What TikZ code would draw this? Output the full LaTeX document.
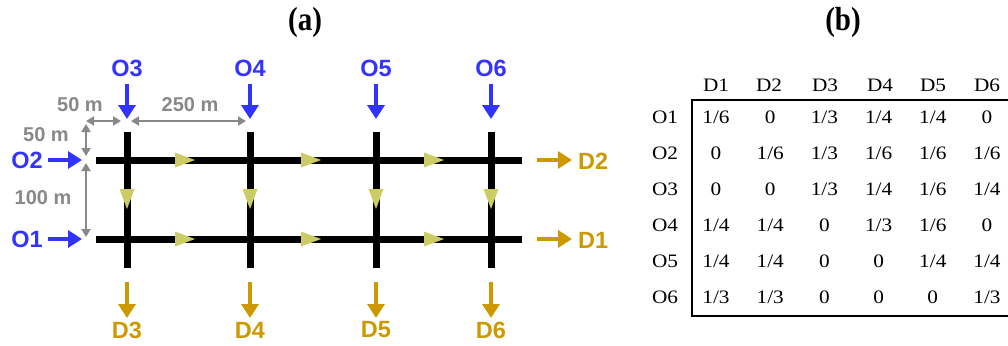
\documentclass[tikz,border=0pt]{standalone}
\usepackage{fontspec}
\setmainfont{Liberation Serif}
\setsansfont{Liberation Sans}
\usetikzlibrary{arrows.meta}
\definecolor{oblue}{RGB}{51,51,255}
\definecolor{dgold}{RGB}{204,153,0}
\definecolor{triyel}{RGB}{204,204,102}
\definecolor{dimgray}{RGB}{136,136,136}
\tikzset{
  road/.style={line width=7pt, black},
  oarrow/.style={line width=4.5pt, oblue, -{Triangle[length=14pt,width=17pt]}},
  darrow/.style={line width=4.5pt, dgold, -{Triangle[length=14pt,width=17pt]}},
  olabel/.style={text=oblue, font=\sffamily\bfseries\fontsize{23.5}{23.5}\selectfont, inner sep=0pt},
  dlabel/.style={text=dgold, font=\sffamily\bfseries\fontsize{23.5}{23.5}\selectfont, inner sep=0pt},
  dimline/.style={line width=2pt, dimgray, {Triangle[length=8pt,width=9pt]}-{Triangle[length=8pt,width=9pt]}},
  dimlabel/.style={text=dimgray, font=\sffamily\bfseries\fontsize{20}{20}\selectfont, inner sep=0pt},
  tri/.style={fill=triyel},
  title/.style={font=\bfseries\fontsize{29}{29}\selectfont, inner sep=0pt},
  cell/.style={font=\fontsize{19}{19}\selectfont, inner sep=0pt},
}
\newcommand{\widetxt}[1]{\scalebox{1.12}[1]{#1}}
\newcommand{\talltxt}[1]{\scalebox{1}[1.15]{#1}}
\begin{document}
\begin{tikzpicture}[x=1pt,y=-1pt]
\useasboundingbox (0,0) rectangle (1008,345);

% titles
\node[title] (ta) at (305,22) {\talltxt{(a)}};
\node[title] (tb) at (843,22) {\talltxt{(b)}};

% road coordinates
\coordinate (h2w) at (96,160);  \coordinate (h2e) at (522,160);
\coordinate (h1w) at (96,239);  \coordinate (h1e) at (522,239);
\foreach \n/\x in {3/127,4/250,5/376,6/491}{
  \coordinate (v\n n) at (\x,132);
  \coordinate (v\n s) at (\x,268);
}
\draw[road] (h2w) -- (h2e);
\draw[road] (h1w) -- (h1e);
\foreach \n in {3,4,5,6}{ \draw[road] (v\n n) -- (v\n s); }

% direction triangles (horizontal)
\foreach \x in {185,311,434}{
  \fill[tri] (\x-10,152.5) -- (\x+10,160) -- (\x-10,167.5) -- cycle;
  \fill[tri] (\x-10,231.5) -- (\x+10,239) -- (\x-10,246.5) -- cycle;
}
% direction triangles (vertical)
\foreach \x in {127,250,376,491}{
  \fill[tri] (\x-7.5,189) -- (\x+7.5,189) -- (\x,209) -- cycle;
}

% origins top
\foreach \n/\x in {3/127,4/250,5/376,6/491}{
  \node[olabel] (O\n) at (\x,68) {O\n};
  \coordinate (O\n a) at (\x,84);
  \coordinate (O\n b) at (\x,119);
  \draw[oarrow] (O\n a) -- (O\n b);
}
% origins left
\node[olabel] (O2) at (27,160) {O2};
\node[olabel] (O1) at (27,239) {O1};
\coordinate (O2a) at (48,160); \coordinate (O2b) at (82,160);
\coordinate (O1a) at (48,239); \coordinate (O1b) at (82,239);
\draw[oarrow] (O2a) -- (O2b);
\draw[oarrow] (O1a) -- (O1b);

% destinations right
\node[dlabel, anchor=west] (D2) at (578,161) {D2};
\node[dlabel, anchor=west] (D1) at (578,240) {D1};
\coordinate (D2a) at (537,160); \coordinate (D2b) at (572,160);
\coordinate (D1a) at (537,239); \coordinate (D1b) at (572,239);
\draw[darrow] (D2a) -- (D2b);
\draw[darrow] (D1a) -- (D1b);

% destinations bottom
\foreach \n/\x in {3/127,4/250,5/376,6/491}{
  \node[dlabel] (D\n) at (\x,330) {D\n};
  \coordinate (D\n a) at (\x,282);
  \coordinate (D\n b) at (\x,318);
  \draw[darrow] (D\n a) -- (D\n b);
}

% dimensions
\coordinate (c0) at (86,121);
\coordinate (c1) at (121,121);
\coordinate (c2) at (131,121);
\coordinate (c3) at (246,121);
\coordinate (c4) at (86,124);
\coordinate (c5) at (86,156);
\coordinate (c6) at (86,163);
\coordinate (c7) at (86,237);
\draw[dimline] (c0) -- (c1);
\draw[dimline] (c2) -- (c3);
\draw[dimline] (c4) -- (c5);
\draw[dimline] (c6) -- (c7);
\node[dimlabel] (l50a) at (80,105) {50 m};
\node[dimlabel] (l250) at (190,105) {250 m};
\node[dimlabel] (l50b) at (46,135) {50 m};
\node[dimlabel] (l100) at (43,198) {100 m};

% table
\foreach \c/\x in {1/716,2/769,3/825,4/880,5/933,6/987}{
  \node[cell] (H\c) at (\x,85) {\widetxt{D\c}};
}
\foreach \r/\y/\vals in {
  1/117/{1/6,0,1/3,1/4,1/4,0},
  2/153/{0,1/6,1/3,1/6,1/6,1/6},
  3/189/{0,0,1/3,1/4,1/6,1/4},
  4/225/{1/4,1/4,0,1/3,1/6,0},
  5/261/{1/4,1/4,0,0,1/4,1/4},
  6/297/{1/3,1/3,0,0,0,1/3}}{
  \node[cell] (R\r) at (665,\y) {\widetxt{O\r}};
  \foreach \v [count=\c] in \vals {
    \pgfmathsetmacro{\xx}{716+(\c-1)*54.2}
    \node[cell] (C\r-\c) at (\xx,\y) {\widetxt{\v}};
  }
}
\coordinate (bt) at (1010,100);
\coordinate (bl) at (692,316);
\coordinate (bb) at (1010,316);
\draw[line width=1.5pt] (bt) -| (bl) -- (bb);
\end{tikzpicture}
\end{document}
